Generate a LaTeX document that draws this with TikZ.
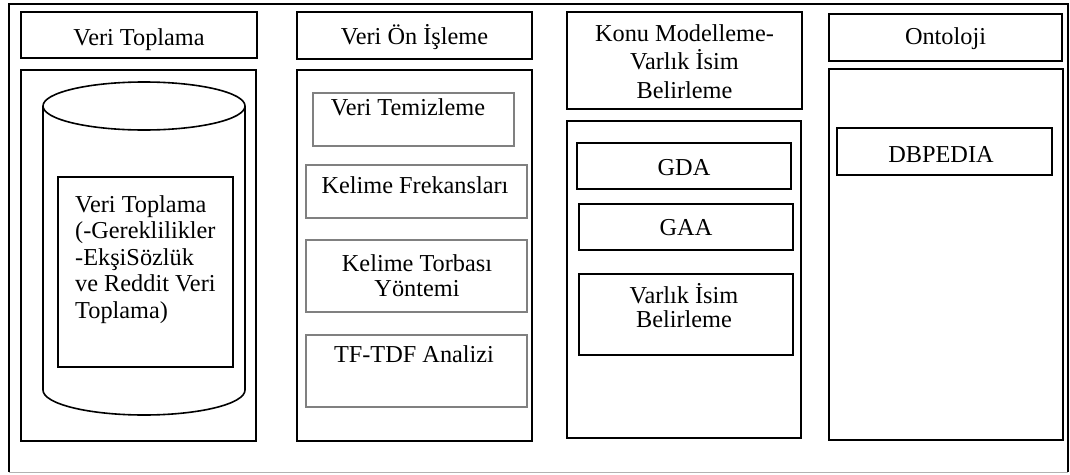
\documentclass[tikz,border=0pt]{standalone}
\usepackage{fontspec}
\setmainfont{Liberation Serif}
\begin{document}
\begin{tikzpicture}[x=1pt,y=-1pt,
  box/.style={draw=black, line width=1.8pt, inner sep=0pt, outer sep=0pt, anchor=north west},
  subbox/.style={draw=black!50, line width=1.2pt, inner sep=0pt, outer sep=0pt, anchor=north west},
  lbl/.style={inner sep=0pt, anchor=base, align=center, font=\fontsize{24.3}{26.5}\selectfont},
  lblwide/.style={lbl, font=\fontsize{24.3}{28.5}\selectfont},
  lblnarrow/.style={lbl, font=\fontsize{24.3}{24.5}\selectfont},
]
\path[use as bounding box] (0,0) rectangle (1070,474);

% outer frame
\draw[line width=1.8pt] (9,472) -- (9,4) -- (1068,4) -- (1068,472);
\draw[black!30, line width=1.4pt] (9,472.5) -- (1068,472.5);

% column 1: data collection (multi-line labels are placed by their last baseline)
\node[box, minimum width=236pt, minimum height=46pt] (h1) at (21,12) {};
\node[lbl] (h1t) at (139,45) {Veri Toplama};
\node[box, minimum width=235pt, minimum height=371pt] (b1) at (21,70) {};
\draw[line width=1.6pt]
  (43,106) -- (43,390) arc[start angle=180, end angle=0, x radius=101, y radius=25]
  -- (245,106);
\draw[line width=1.6pt] (144,106) ellipse[x radius=101, y radius=24];
\node[box, minimum width=175pt, minimum height=190pt] (c1) at (58,177) {};
\node[lbl, align=left, anchor=base west] (c1t) at (75,318)
  {Veri Toplama\\(-Gereklilikler\\-EkşiSözlük\\ve Reddit Veri\\Toplama)};

% column 2: preprocessing
\node[box, minimum width=235pt, minimum height=47pt] (h2) at (297,12) {};
\node[lbl] (h2t) at (414.5,44) {Veri Ön İşleme};
\node[box, minimum width=235pt, minimum height=371pt] (b2) at (297,70) {};
\node[subbox, minimum width=201pt, minimum height=53pt] (p1) at (313,93) {};
\node[lbl] (p1t) at (408,115) {Veri Temizleme};
\node[subbox, minimum width=221pt, minimum height=53pt] (p2) at (306,165) {};
\node[lbl] (p2t) at (415,193) {Kelime Frekansları};
\node[subbox, minimum width=221pt, minimum height=72pt] (p3) at (306,240) {};
\node[lblnarrow] (p3t) at (417,296) {Kelime Torbası\\Yöntemi};
\node[subbox, minimum width=221pt, minimum height=72pt] (p4) at (306,335) {};
\node[lbl] (p4t) at (414,362) {TF-TDF Analizi};

% column 3: topic modelling and named entities
\node[box, minimum width=235pt, minimum height=97pt] (h3) at (567,12) {};
\node[lblwide] (h3t) at (684.5,98) {Konu Modelleme-\\Varlık İsim\\Belirleme};
\node[box, minimum width=234pt, minimum height=317pt] (b3) at (567,121) {};
\node[box, minimum width=214pt, minimum height=46pt] (m1) at (577,143) {};
\node[lbl] (m1t) at (684,175) {GDA};
\node[box, minimum width=214pt, minimum height=46pt] (m2) at (579,204) {};
\node[lbl] (m2t) at (686,235) {GAA};
\node[box, minimum width=214pt, minimum height=81pt] (m3) at (579,274) {};
\node[lblnarrow] (m3t) at (684,327.5) {Varlık İsim\\Belirleme};

% column 4: ontology
\node[box, minimum width=233pt, minimum height=47pt] (h4) at (829,14) {};
\node[lbl] (h4t) at (945.5,44) {Ontoloji};
\node[box, minimum width=234pt, minimum height=371pt] (b4) at (829,69) {};
\node[box, minimum width=215pt, minimum height=47pt] (o1) at (837,128) {};
\node[lbl] (o1t) at (941,162) {DBPEDIA};
\end{tikzpicture}
\end{document}
